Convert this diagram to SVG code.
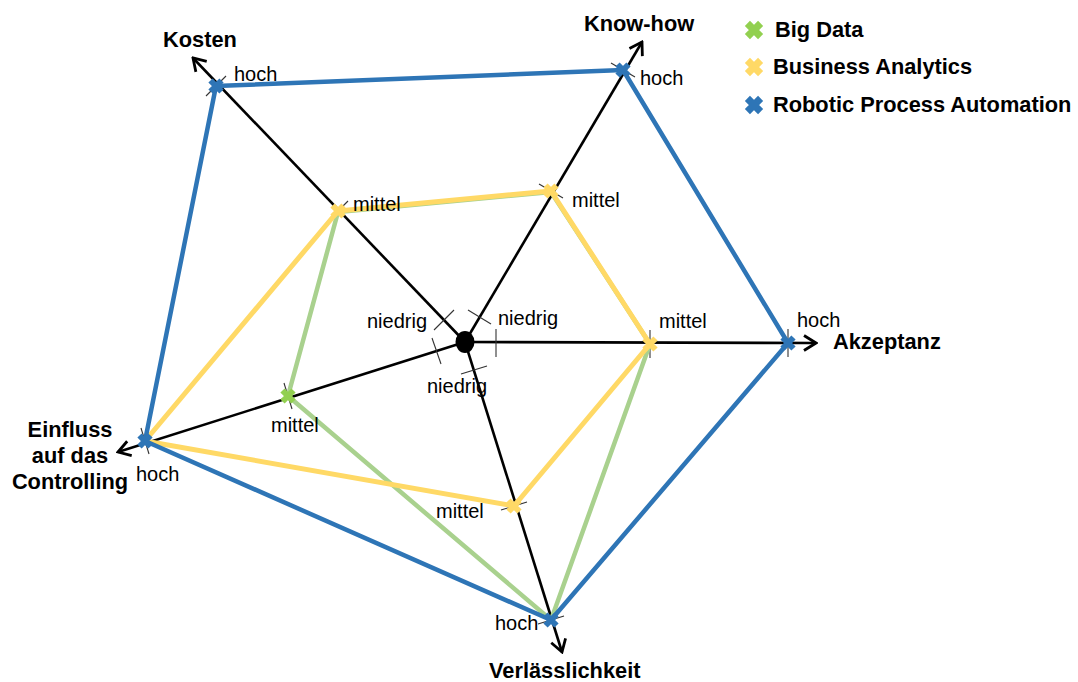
<svg xmlns="http://www.w3.org/2000/svg" xmlns:xlink="http://www.w3.org/1999/xlink" width="1078" height="682" viewBox="0 0 1078 682">
<style>
.axis{stroke:#000;stroke-width:2.6;fill:none}
.tick{stroke:#333;stroke-width:1.1}
.lbl{font-family:"Liberation Sans",Arial,sans-serif;font-size:20px;fill:#000}
.ax{font-family:"Liberation Sans",Arial,sans-serif;font-size:21.8px;font-weight:bold;fill:#000}
.sg{fill:none;stroke:#A9D18E;stroke-width:4.5;stroke-linejoin:round}
.sy{fill:none;stroke:#FFD966;stroke-width:5;stroke-linejoin:round}
.sb{fill:none;stroke:#2E75B6;stroke-width:4.5;stroke-linejoin:round}
.mg{stroke:#92D050;stroke-width:6}
.my{stroke:#FFD966;stroke-width:6}
.mb{stroke:#2E75B6;stroke-width:6}
</style>
<defs>
<marker id="arr" viewBox="0 0 16 18" refX="14" refY="9" markerWidth="16" markerHeight="18" markerUnits="userSpaceOnUse" orient="auto">
<path d="M2,1.5 L14,9 L2,16.5" fill="none" stroke="#000" stroke-width="2.8"/>
</marker>
<path id="cross" d="M-5.5,-5.5L5.5,5.5M5.5,-5.5L-5.5,5.5"/>
</defs>
<rect width="1078" height="682" fill="#fff"/>

<g id="axes">
<line class="axis" x1="465" y1="342" x2="193" y2="58" marker-end="url(#arr)"/>
<line class="axis" x1="465" y1="342" x2="642" y2="42" marker-end="url(#arr)"/>
<line class="axis" x1="465" y1="342" x2="816" y2="343" marker-end="url(#arr)"/>
<line class="axis" x1="465" y1="342" x2="562" y2="652" marker-end="url(#arr)"/>
<line class="axis" x1="465" y1="342" x2="118" y2="452" marker-end="url(#arr)"/>
</g>

<g id="ticks">
<line class="tick" x1="434" y1="330" x2="454" y2="310"/>
<line class="tick" x1="468" y1="310" x2="491" y2="324"/>
<line class="tick" x1="496" y1="329" x2="496" y2="357"/>
<line class="tick" x1="461" y1="374" x2="487" y2="366"/>
<line class="tick" x1="432" y1="338" x2="441" y2="364"/>
<line class="tick" x1="328" y1="221" x2="348" y2="201"/>
<line class="tick" x1="539" y1="184" x2="563" y2="198"/>
<line class="tick" x1="650" y1="330" x2="650" y2="358"/>
<line class="tick" x1="501" y1="510" x2="527" y2="502"/>
<line class="tick" x1="284" y1="383" x2="292" y2="409"/>
<line class="tick" x1="206" y1="96" x2="226" y2="76"/>
<line class="tick" x1="611" y1="63" x2="635" y2="77"/>
<line class="tick" x1="788" y1="329" x2="788" y2="357"/>
<line class="tick" x1="538" y1="624" x2="564" y2="616"/>
<line class="tick" x1="141" y1="428" x2="149" y2="454"/>
</g>

<ellipse id="center" cx="465" cy="342" rx="9.5" ry="11" fill="#000"/>

<g id="connectors">
<polygon id="series-bigdata" class="sg" points="338,212 551,192 650,344 551,620 288,396"/>
<polygon id="series-ba" class="sy" points="338,211 551,191 650,344 514,506 145,441"/>
<polygon id="series-rpa" class="sb" points="216,86 623,70 788,343 551,620 145,441"/>
</g>

<g id="markers">
<use xlink:href="#cross" class="mg" x="288" y="396"/>
<use xlink:href="#cross" class="my" x="338" y="211"/>
<use xlink:href="#cross" class="my" x="551" y="191"/>
<use xlink:href="#cross" class="my" x="650" y="344"/>
<use xlink:href="#cross" class="my" x="514" y="506"/>
<use xlink:href="#cross" class="mb" x="216" y="86"/>
<use xlink:href="#cross" class="mb" x="623" y="70"/>
<use xlink:href="#cross" class="mb" x="788" y="343"/>
<use xlink:href="#cross" class="mb" x="551" y="620"/>
<use xlink:href="#cross" class="mb" x="145" y="441"/>
</g>

<g id="level-labels">
<text class="lbl" x="367" y="328">niedrig</text>
<text class="lbl" x="498" y="325">niedrig</text>
<text class="lbl" x="427" y="393">niedrig</text>
<text class="lbl" x="353" y="211">mittel</text>
<text class="lbl" x="572" y="207">mittel</text>
<text class="lbl" x="659" y="328">mittel</text>
<text class="lbl" x="436" y="518">mittel</text>
<text class="lbl" x="271" y="432">mittel</text>
<text class="lbl" x="234" y="81">hoch</text>
<text class="lbl" x="640" y="85">hoch</text>
<text class="lbl" x="797" y="327">hoch</text>
<text class="lbl" x="495" y="630">hoch</text>
<text class="lbl" x="136" y="481">hoch</text>
</g>

<g id="axis-kosten"><text class="ax" x="163" y="47">Kosten</text></g>
<g id="axis-knowhow"><text class="ax" x="584" y="31">Know-how</text></g>
<g id="axis-akzeptanz"><text class="ax" x="833" y="349">Akzeptanz</text></g>
<g id="axis-verlaesslichkeit"><text class="ax" x="489" y="678">Verlässlichkeit</text></g>
<g id="axis-einfluss"><text class="ax" text-anchor="middle"><tspan x="70" y="437">Einfluss</tspan><tspan x="70" y="463">auf das</tspan><tspan x="70" y="489">Controlling</tspan></text></g>

<g id="legend">
<g id="legend-bigdata"><use xlink:href="#cross" class="mg" transform="translate(754,30) scale(1.2)"/><text class="ax" x="775" y="37">Big Data</text></g>
<g id="legend-ba"><use xlink:href="#cross" class="my" transform="translate(754,67) scale(1.2)"/><text class="ax" x="773" y="74">Business Analytics</text></g>
<g id="legend-rpa"><use xlink:href="#cross" class="mb" transform="translate(754,105) scale(1.2)"/><text class="ax" x="773" y="112">Robotic Process Automation</text></g>
</g>
</svg>
